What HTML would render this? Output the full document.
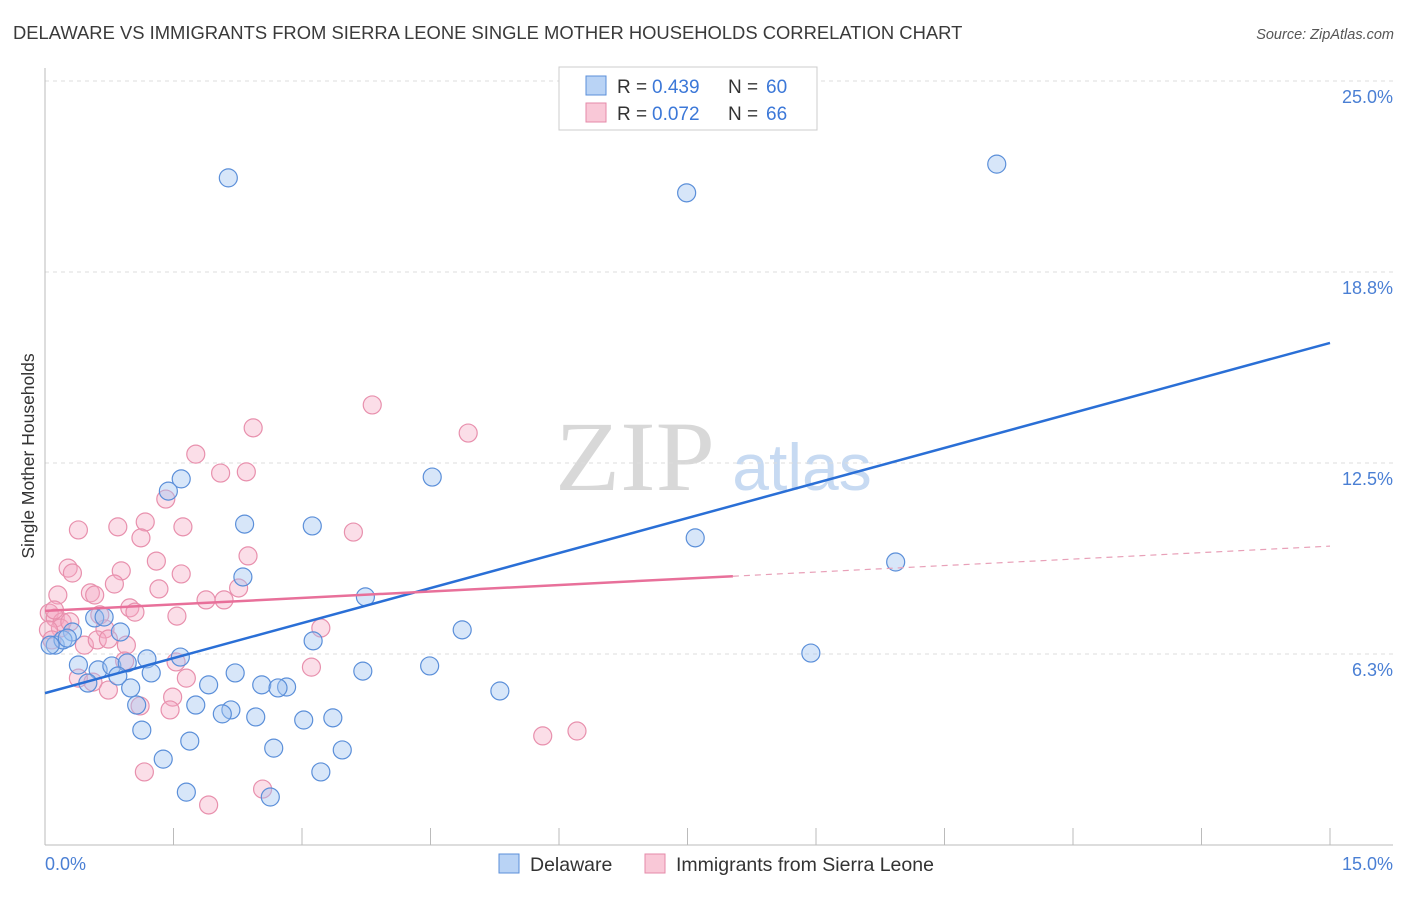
<!DOCTYPE html>
<html><head><meta charset="utf-8"><style>
body{margin:0;background:#fff;font-family:"Liberation Sans",sans-serif;}
</style></head><body>
<svg id="chart" width="1406" height="892" xmlns="http://www.w3.org/2000/svg" font-family="Liberation Sans, sans-serif">
<text x="13" y="39" font-size="18.4" fill="#3a3a3a">DELAWARE VS IMMIGRANTS FROM SIERRA LEONE SINGLE MOTHER HOUSEHOLDS CORRELATION CHART</text>
<text x="1394" y="39" font-size="14.5" fill="#555" font-style="italic" text-anchor="end">Source: ZipAtlas.com</text>
<g>
<text x="635" y="490" font-size="100" fill="#d8d8d8" font-family="Liberation Serif, serif" text-anchor="middle" textLength="160" lengthAdjust="spacingAndGlyphs">ZIP</text>
<text x="802" y="490" font-size="66" fill="#c7daf2" text-anchor="middle">atlas</text>
</g>
<g id="grid"></g>
<g id="axes"></g>
<g id="marks"></g>
<text transform="translate(34,456) rotate(-90)" font-size="17.5" fill="#333" text-anchor="middle">Single Mother Households</text>
<g>
<rect x="559" y="67" width="258" height="63" fill="#fff" stroke="#ccc"/>
<rect x="586" y="76" width="20" height="19" fill="#b9d3f5" stroke="#5b8fd9"/>
<text x="617" y="93" font-size="19" fill="#333">R =</text>
<text x="652" y="93" font-size="19" fill="#3c78d8">0.439</text>
<text x="728" y="93" font-size="19" fill="#333">N =</text>
<text x="766" y="93" font-size="19" fill="#3c78d8">60</text>
<rect x="586" y="103" width="20" height="19" fill="#f9c8d7" stroke="#e58aa8"/>
<text x="617" y="120" font-size="19" fill="#333">R =</text>
<text x="652" y="120" font-size="19" fill="#3c78d8">0.072</text>
<text x="728" y="120" font-size="19" fill="#333">N =</text>
<text x="766" y="120" font-size="19" fill="#3c78d8">66</text>
</g>
<g>
<rect x="499" y="854" width="20" height="19" fill="#b9d3f5" stroke="#5b8fd9"/>
<text x="530" y="871" font-size="19.5" fill="#333">Delaware</text>
<rect x="645" y="854" width="20" height="19" fill="#f9c8d7" stroke="#e58aa8"/>
<text x="676" y="871" font-size="19.5" fill="#333">Immigrants from Sierra Leone</text>
</g>
</svg>
<script>
const yTicks=[6.25,12.5,18.75,25];
const yTickLabels=["6.3%","12.5%","18.8%","25.0%"];
const xTicks=[0,1.5,3,4.5,6,7.5,9,10.5,12,13.5,15];
const blueX=[2.14,7.49,11.11,4.52,1.59,1.44,2.33,3.12,7.59,9.93,2.31,3.74,4.87,3.13,8.94,4.49,3.71,5.31,0.88,0.32,0.58,0.12,0.21,0.06,0.39,0.62,0.78,0.96,1.19,1.58,1.24,0.85,0.50,1.00,1.91,2.22,2.53,2.82,2.72,1.07,1.76,2.17,2.07,2.46,3.02,3.36,1.13,1.69,2.67,3.47,1.38,3.22,1.65,2.63,0.26,0.69];
const blueY=[21.83,21.34,22.28,12.04,11.98,11.58,10.50,10.44,10.05,9.26,8.77,8.12,7.04,6.68,6.28,5.86,5.69,5.04,6.97,6.97,7.43,6.54,6.71,6.54,5.89,5.73,5.86,5.96,6.09,6.15,5.63,5.53,5.30,5.14,5.24,5.63,5.24,5.17,5.14,4.58,4.58,4.42,4.29,4.19,4.09,4.16,3.76,3.40,3.17,3.11,2.81,2.39,1.73,1.57,6.77,7.46];
const pinkX=[3.82,2.43,4.94,1.76,2.05,2.35,1.41,0.39,1.17,0.85,1.61,3.60,1.12,2.37,1.30,0.27,0.32,0.89,1.59,0.81,0.53,0.15,0.58,1.33,1.88,2.09,2.26,0.99,1.05,0.64,0.05,0.12,0.20,1.54,3.22,0.70,0.18,0.04,0.08,0.46,0.61,0.95,0.74,0.93,1.53,3.11,1.65,0.39,0.56,1.49,0.74,1.11,1.46,1.16,2.54,1.91,5.81,6.21,0.11,0.29];
const pinkY=[14.40,13.65,13.48,12.79,12.17,12.21,11.32,10.31,10.57,10.41,10.41,10.24,10.05,9.46,9.29,9.06,8.90,8.97,8.87,8.54,8.25,8.18,8.18,8.38,8.02,8.02,8.41,7.76,7.62,7.53,7.59,7.43,7.30,7.49,7.10,7.07,7.10,7.04,6.71,6.54,6.71,6.54,6.74,6.02,5.99,5.82,5.46,5.46,5.33,4.84,5.07,4.55,4.42,2.39,1.83,1.31,3.57,3.73,7.69,7.30];
const blueTrend=[4.97,16.43];
const pinkTrend=[7.66,9.78];
const pinkSolidEnd=8.03;
const NS="http://www.w3.org/2000/svg";
const X0=45,X1=1330,Y0=845,YT=81;
function sx(v){return X0+(v/15)*(X1-X0);}
function sy(v){return Y0-(v/25)*(Y0-YT);}
function mk(tag,attrs,parent){const e=document.createElementNS(NS,tag);for(const k in attrs)e.setAttribute(k,attrs[k]);parent.appendChild(e);return e;}
const grid=document.getElementById('grid'),axes=document.getElementById('axes'),marks=document.getElementById('marks');
yTicks.forEach((t,i)=>{
  const l=mk('line',{x1:X0,x2:1393,y1:sy(t),y2:sy(t),stroke:'#ddd','stroke-dasharray':'4,4'},grid);
  
  
  const tx=mk('text',{x:1393,y:sy(t)+22,'font-size':18,fill:'#4a7fd4','text-anchor':'end'},axes);
  tx.textContent=yTickLabels[i];
  
  
});
const ya=mk('line',{x1:X0,x2:X0,y1:68,y2:Y0,stroke:'#bbb'},axes);


const xa=mk('line',{x1:X0,x2:1393,y1:Y0,y2:Y0,stroke:'#bbb'},axes);


xTicks.forEach(t=>{
  const l=mk('line',{x1:sx(t),x2:sx(t),y1:828,y2:Y0,stroke:'#bbb'},axes);
  
  
});
const xl0=mk('text',{x:45,y:870,'font-size':18,fill:'#4a7fd4'},axes);xl0.textContent='0.0%';


const xl1=mk('text',{x:1393,y:870,'font-size':18,fill:'#4a7fd4','text-anchor':'end'},axes);xl1.textContent='15.0%';


pinkX.forEach((x,i)=>{
  const c=mk('circle',{cx:sx(x),cy:sy(pinkY[i]),r:9,fill:'rgba(245,168,194,0.38)',stroke:'#e890ad','stroke-width':1.2},marks);
  
  
});
blueX.forEach((x,i)=>{
  const c=mk('circle',{cx:sx(x),cy:sy(blueY[i]),r:9,fill:'rgba(160,196,240,0.42)',stroke:'#5b8fd9','stroke-width':1.2},marks);
  
  
});
const bt=mk('line',{x1:sx(0),y1:sy(blueTrend[0]),x2:sx(15),y2:sy(blueTrend[1]),stroke:'#2a6fd6','stroke-width':2.5},marks);


const pm=pinkTrend[0]+(pinkTrend[1]-pinkTrend[0])*pinkSolidEnd/15;
const pt=mk('line',{x1:sx(0),y1:sy(pinkTrend[0]),x2:sx(pinkSolidEnd),y2:sy(pm),stroke:'#e8709a','stroke-width':2.5},marks);


const pd=mk('line',{x1:sx(pinkSolidEnd),y1:sy(pm),x2:sx(15),y2:sy(pinkTrend[1]),stroke:'#e8a0b8','stroke-width':1.2,'stroke-dasharray':'6,5'},marks);


</script>
</body></html>
